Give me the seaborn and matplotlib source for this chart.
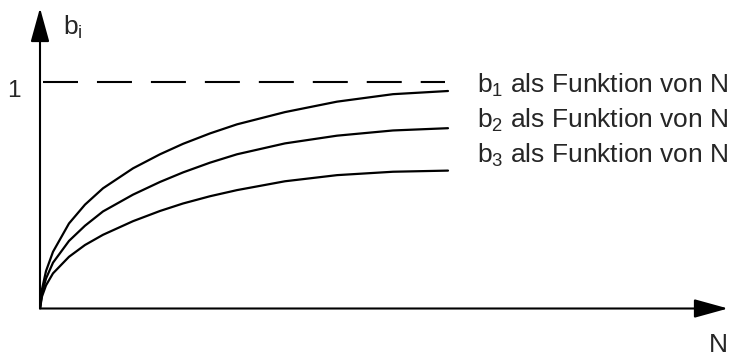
import matplotlib
matplotlib.use("Agg")
import matplotlib.pyplot as plt
import seaborn as sns
import pandas as pd

# N values (arbitrary units) and the three saturating curves b1, b2, b3
n_vals = [0, 2, 6, 13, 29, 45, 63, 93, 120, 143, 170, 197, 245, 297, 353, 408]
b1 = [0.0, 0.085, 0.165, 0.25, 0.375, 0.458, 0.53, 0.618, 0.68, 0.726, 0.772,
      0.812, 0.866, 0.912, 0.945, 0.959]
b2 = [0.0, 0.068, 0.132, 0.202, 0.298, 0.365, 0.428, 0.502, 0.558, 0.6, 0.643,
      0.68, 0.728, 0.762, 0.785, 0.795]
b3 = [0.0, 0.053, 0.102, 0.155, 0.228, 0.28, 0.325, 0.385, 0.43, 0.463, 0.495,
      0.522, 0.561, 0.588, 0.603, 0.608]
series_names = ["b1", "b2", "b3"]
labels = [r"$\mathregular{b_1}$ als Funktion von N",
          r"$\mathregular{b_2}$ als Funktion von N",
          r"$\mathregular{b_3}$ als Funktion von N"]
label_y = [0.95, 0.796, 0.642]
limit = 1.0

sns.set_style("white")
plt.rcParams["font.family"] = ["Liberation Sans", "DejaVu Sans"]
plt.rcParams["mathtext.fontset"] = "custom"
plt.rcParams["mathtext.rm"] = "Liberation Sans"

rows = []
for name, vals in zip(series_names, [b1, b2, b3]):
    for n, v in zip(n_vals, vals):
        rows.append({"N": n, "b": v, "series": name})
df = pd.DataFrame(rows)

fig = plt.figure(figsize=(7.31, 3.56), dpi=100)
ax = fig.add_axes([40 / 731, 47.5 / 356, 688 / 731, 300.5 / 356])

sns.lineplot(data=df, x="N", y="b", hue="series", palette=["black"] * 3,
             estimator=None, sort=False, legend=False, linewidth=1.6, ax=ax)
for ln in ax.lines:
    ln.set_solid_joinstyle("round")

# dashed asymptote at 1
ax.plot([3, 405], [limit, limit], color="black", linewidth=1.5,
        linestyle=(0, (16.8, 9.1)))

ax.set_xlim(0, 688)
ax.set_ylim(0, 300.5 / 226.8)
ax.set_xticks([])
ax.set_yticks([])
for s in ax.spines.values():
    s.set_visible(False)
ax.set_xlabel("")
ax.set_ylabel("")

# axes with arrow heads
arrow = dict(arrowstyle="-|>,head_length=21,head_width=5.8", mutation_scale=1,
             color="black", linewidth=1.5, shrinkA=0, shrinkB=0)
ax.annotate("", xy=(1, 0), xytext=(0, 0), xycoords="axes fraction",
            arrowprops=arrow, annotation_clip=False)
ax.annotate("", xy=(0, 1), xytext=(0, 0), xycoords="axes fraction",
            arrowprops=arrow, annotation_clip=False)

fs = 19
for lab, y in zip(labels, label_y):
    ax.text(437, y, lab, fontsize=fs, va="baseline", ha="left")
ax.text(-19, 0.933, "1", fontsize=17.5, va="baseline", ha="right", clip_on=False)
ax.text(23, 1.206, r"$\mathregular{b_i}$", fontsize=fs, va="baseline", ha="left")
ax.text(688, -0.192, "N", fontsize=fs, va="baseline", ha="right", clip_on=False)

fig.savefig("out.png", dpi=100)
